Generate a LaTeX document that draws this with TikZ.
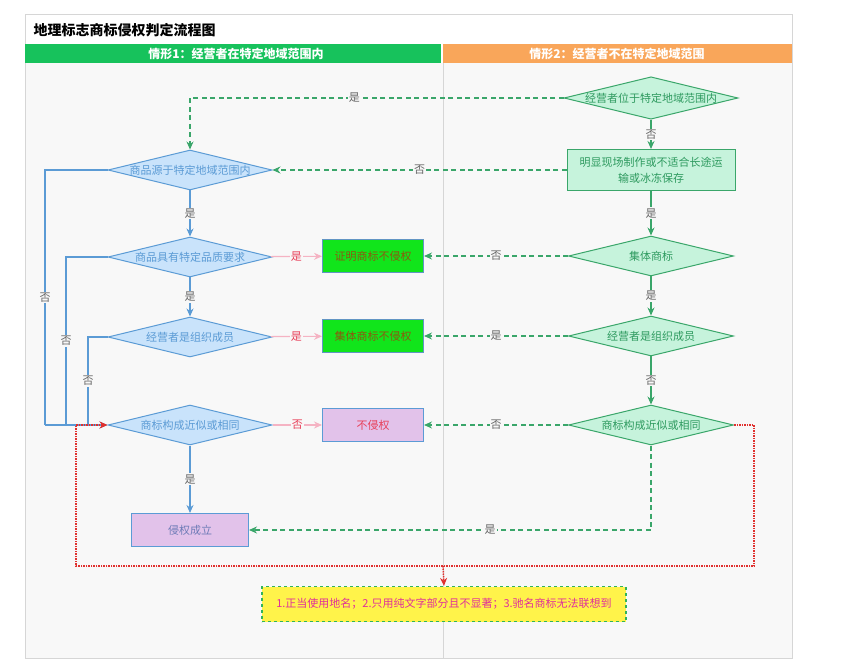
\documentclass[tikz,border=0pt]{standalone}
\usepackage{fontspec}
\setmainfont{Noto Sans CJK SC}
\usepackage{xcolor}
\usetikzlibrary{arrows.meta,positioning,shapes.geometric,calc}
\definecolor{bline}{HTML}{5B9BD5}
\definecolor{bfill}{HTML}{C9E3FB}
\definecolor{btext}{HTML}{5B9BD5}
\definecolor{gline}{HTML}{3AA66A}
\definecolor{gfill}{HTML}{C6F3DC}
\definecolor{gtext}{HTML}{2E9A5F}
\definecolor{pinkln}{HTML}{F5B3C3}
\definecolor{redtxt}{HTML}{E8405A}
\definecolor{lime}{HTML}{11E51B}
\definecolor{limetxt}{HTML}{8A5A10}
\definecolor{purp}{HTML}{E2C2EA}
\definecolor{hdgreen}{HTML}{17C25C}
\definecolor{hdorange}{HTML}{F9A65A}
\definecolor{bodybg}{HTML}{F8F8F8}
\definecolor{frame}{HTML}{D6D6D6}
\definecolor{lblgray}{HTML}{666666}
\definecolor{dotred}{HTML}{E0302E}
\definecolor{notefill}{HTML}{FFF34A}
\definecolor{notetxt}{HTML}{E0309A}
\tikzset{
  >={Stealth[length=8pt, width=7pt]},
  x=1pt, y=-1pt,
  lq/.style={draw=bline, fill=bfill, diamond, aspect=4.1, line width=1pt, inner sep=0pt, minimum width=164pt, minimum height=40pt, text=btext, font=\fontsize{11}{12}\selectfont},
  rq/.style={draw=gline, fill=gfill, diamond, aspect=4.1, line width=1pt, inner sep=0pt, minimum width=165pt, minimum height=40pt, text=gtext, font=\fontsize{11}{12}\selectfont},
  rbox/.style={draw=gline, fill=gfill, line width=1pt, minimum width=168pt, minimum height=41pt, align=center, text=gtext, font=\fontsize{11}{16}\selectfont},
  okbox/.style={draw=bline!80!gray, fill=lime, line width=1pt, minimum width=101pt, minimum height=33pt, text=limetxt, font=\fontsize{11}{12}\selectfont},
  pbox/.style={draw=bline, fill=purp, line width=1pt, minimum height=33pt, font=\fontsize{11}{12}\selectfont},
  note/.style={draw=gline!80!lime, dashed, line width=1.2pt, fill=notefill, minimum width=364pt, minimum height=35pt, text=notetxt, font=\fontsize{11}{12}\selectfont},
  lbl/.style={fill=bodybg, inner sep=1pt, text=lblgray, font=\fontsize{11}{12}\selectfont},
  rlbl/.style={fill=bodybg, inner sep=1pt, text=redtxt, font=\fontsize{11}{12}\selectfont},
  hdr/.style={text=white, font=\bfseries\fontsize{12}{13}\selectfont},
  bflow/.style={->, draw=bline, line width=1.3pt},
  bseg/.style={draw=bline, line width=1.3pt},
  gflow/.style={->, draw=gline, line width=1.3pt},
  gdash/.style={->, draw=gline, line width=1.3pt, dash pattern=on 5pt off 3.5pt},
  pflow/.style={->, draw=pinkln, line width=1.1pt},
  rflow/.style={->, draw=dotred, line width=1.5pt, densely dotted},
}
\begin{document}
\begin{tikzpicture}
  \useasboundingbox (0,0) rectangle (855,671);
  % frame and lanes
  \fill[white] (0,0) rectangle (855,671);
  \fill[bodybg] (25,63) rectangle (792,658);
  \draw[frame, line width=1pt] (25,15) rectangle (792,658);
  \node[anchor=west, font=\bfseries\fontsize{14}{15}\selectfont] (title) at (30,30) {地理标志商标侵权判定流程图};
  \fill[hdgreen] (25,44) rectangle (441,63);
  \fill[hdorange] (443,44) rectangle (792,63);
  \node[hdr] (h1) at (236,54) {情形1：经营者在特定地域范围内};
  \node[hdr] (h2) at (617,54) {情形2：经营者不在特定地域范围};
  \draw[frame, line width=1pt] (443,63) -- (443,658);

  % left lane
  \node[lq] (d1) at (190,170) {商品源于特定地域范围内};
  \node[lq] (d2) at (190,257) {商品具有特定品质要求};
  \node[lq] (d3) at (190,337) {经营者是组织成员};
  \node[lq] (d4) at (190,425) {商标构成近似或相同};
  \node[pbox, minimum width=117pt, text=bline!80!purple] (inf) at (190,530) {侵权成立};
  \node[okbox] (ok1) at (373,256) {证明商标不侵权};
  \node[okbox] (ok2) at (373,336) {集体商标不侵权};
  \node[pbox, minimum width=101pt, text=redtxt] (ok3) at (373,425) {不侵权};

  % right lane
  \node[rq] (r1) at (651,98)  {经营者位于特定地域范围内};
  \node[rbox] (r2) at (651,170) {明显现场制作或不适合长途运\\输或冰冻保存};
  \node[rq] (r3) at (651,256) {集体商标};
  \node[rq] (r4) at (651,336) {经营者是组织成员};
  \node[rq] (r5) at (651,425) {商标构成近似或相同};
  \node[note] (nt) at (444,604) {1.正当使用地名；2.只用纯文字部分且不显著；3.驰名商标无法联想到};

  \coordinate (j1) at (45,425);
  \coordinate (j2) at (66,425);
  \coordinate (j3) at (88,425);
  \coordinate (c1) at (754,566);
  \coordinate (c2) at (76,566);
  \coordinate (c3) at (443,566);

  % left lane flows
  \draw[bflow] (d1) -- node[lbl]{是} (d2);
  \draw[bflow] (d2) -- node[lbl]{是} (d3);
  \draw[bflow] (d4) -- node[lbl]{是} (inf);
  \draw[bseg] (d1.west) -| node[lbl, pos=0.75]{否} (j1);
  \draw[bseg] (d2.west) -| node[lbl, pos=0.75]{否} (j2);
  \draw[bseg] (d3.west) -| node[lbl, pos=0.75]{否} (j3);
  \draw[bflow] (j1) -- (d4.west);
  \draw[pflow] (d2) -- node[rlbl]{是} (ok1);
  \draw[pflow] (d3) -- node[rlbl]{是} (ok2);
  \draw[pflow] (d4) -- node[rlbl]{否} (ok3);

  % right lane flows
  \draw[gflow] (r1) -- node[lbl]{否} (r2);
  \draw[gflow] (r2) -- node[lbl]{是} (r3);
  \draw[gflow] (r3) -- node[lbl]{是} (r4);
  \draw[gflow] (r4) -- node[lbl]{否} (r5);
  \draw[gdash] (r1.west) -| node[lbl, pos=0.28]{是} (d1.north);
  \draw[gdash] (r2.west) -- node[lbl, pos=0.5]{否} (d1.east);
  \draw[gdash] (r3.west) -- node[lbl]{否} (ok1.east);
  \draw[gdash] (r4.west) -- node[lbl]{是} (ok2.east);
  \draw[gdash] (r5.west) -- node[lbl]{否} (ok3.east);
  \draw[gdash] (r5.south) |- node[lbl, pos=0.7]{是} (inf.east);

  % exception loop
  \draw[rflow] (r5.east) -| (c1) -- (c2) |- (d4.west);
  \draw[rflow] (c3) -- (nt.north);
\end{tikzpicture}
\end{document}
